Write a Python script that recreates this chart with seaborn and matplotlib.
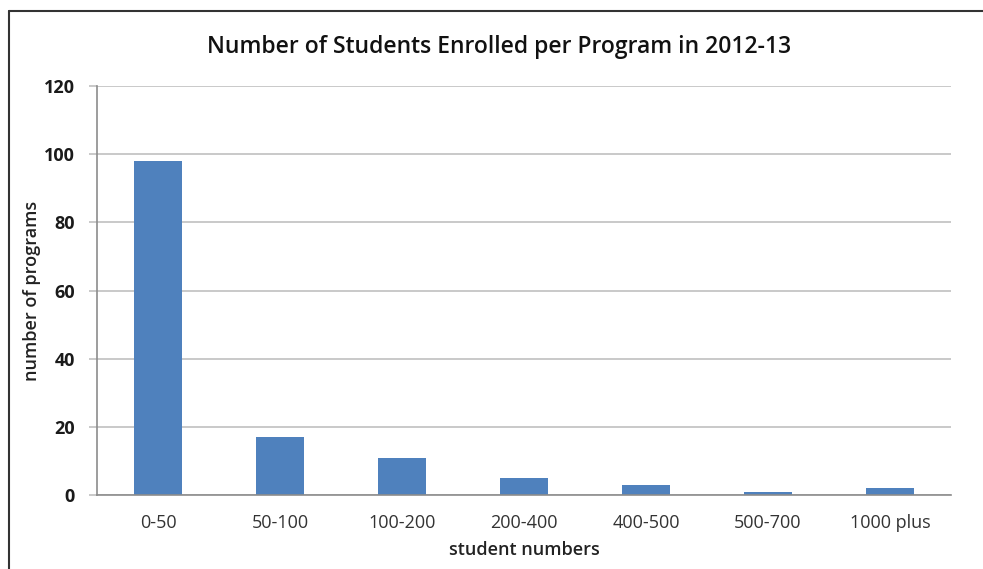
import matplotlib
matplotlib.use("Agg")
import matplotlib.pyplot as plt
import seaborn as sns
import pandas as pd
from matplotlib.lines import Line2D

categories = ["0-50", "50-100", "100-200", "200-400", "400-500", "500-700", "1000 plus"]
programs = [98, 17, 11, 5, 3, 1, 2]
yticks = [0, 20, 40, 60, 80, 100, 120]

sns.set_theme(style="white")
plt.rcParams['font.family'] = ['Open Sans', 'DejaVu Sans']

df = pd.DataFrame({"cat": categories, "val": programs})

fig = plt.figure(figsize=(9.83, 5.69), dpi=100)
ax = fig.add_axes([97/983, 1-495/569, (951-97)/983, (495-86)/569])

sns.barplot(data=df, x="cat", y="val", color="#4F81BD", saturation=1, width=0.39,
            linewidth=0, edgecolor="none", ax=ax)

ax.set_ylim(0, 120)
ax.set_xlim(-0.5, len(categories)-0.5)
ax.set_yticks(yticks)
ax.set_yticklabels([str(t) for t in yticks], fontsize=13, fontweight='bold', color='#1a1a1a')
ax.set_xticks(range(len(categories)))
ax.set_xticklabels(categories, fontsize=13, color='#333333')
ax.yaxis.grid(True, color='#C0C0C0', linewidth=1.2)
ax.set_axisbelow(True)
for s in ['top', 'right']:
    ax.spines[s].set_visible(False)
for s in ['left', 'bottom']:
    ax.spines[s].set_color('#8C8C8C')
    ax.spines[s].set_linewidth(1.2)
ax.tick_params(axis='y', length=6, color='#C0C0C0', width=1.2, pad=10, left=True)
ax.tick_params(axis='x', length=0, pad=14)

ax.set_xlabel("student numbers", fontsize=13, fontweight='semibold', color='#222222', labelpad=6)
ax.set_ylabel("number of programs", fontsize=13, fontweight='semibold', color='#222222', labelpad=2)
fig.text(0.508, 1-47/569, "Number of Students Enrolled per Program in 2012-13",
         ha='center', va='center', fontsize=16.5, fontweight='semibold', color='#111111')

# chart frame (top and left edges visible)
fig.add_artist(Line2D([9/983, 1], [1-11/569, 1-11/569], color='#333333', linewidth=1.5, transform=fig.transFigure))
fig.add_artist(Line2D([9/983, 9/983], [0, 1-11/569], color='#333333', linewidth=1.5, transform=fig.transFigure))

fig.savefig("out.png", dpi=100)
